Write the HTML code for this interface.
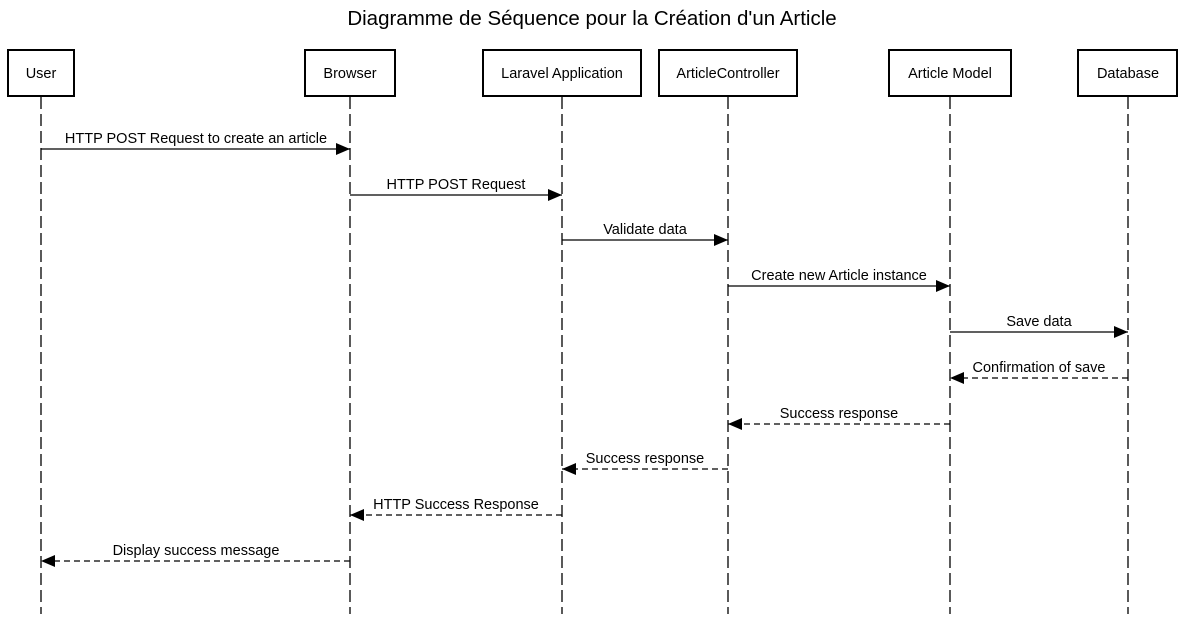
<!DOCTYPE html>
<html><head><style>body{margin:0;background:#fff}svg{display:block}</style></head>
<body>
<svg width="1185" height="618" xmlns="http://www.w3.org/2000/svg" font-family="Liberation Sans, Arial, sans-serif">
<defs>
<marker id="a" markerWidth="14" markerHeight="12" refX="14" refY="6" orient="auto" markerUnits="userSpaceOnUse"><path d="M0,0 L14,6 L0,12 Z" fill="#000"/></marker>
</defs>
<text x="592" y="25" font-size="20.5" text-anchor="middle">Diagramme de Séquence pour la Création d'un Article</text>
<g stroke="#000" stroke-width="1.3" stroke-dasharray="12,5">
<line x1="41" y1="97" x2="41" y2="614"/><line x1="350" y1="97" x2="350" y2="614"/><line x1="562" y1="97" x2="562" y2="614"/><line x1="728" y1="97" x2="728" y2="614"/><line x1="950" y1="97" x2="950" y2="614"/><line x1="1128" y1="97" x2="1128" y2="614"/>
</g>
<g fill="#fff" stroke="#000" stroke-width="2">
<rect x="8" y="50" width="66" height="46"/><rect x="305" y="50" width="90" height="46"/><rect x="483" y="50" width="158" height="46"/><rect x="659" y="50" width="138" height="46"/><rect x="889" y="50" width="122" height="46"/><rect x="1078" y="50" width="99" height="46"/>
</g>
<g font-size="14.5" text-anchor="middle">
<text x="41" y="78">User</text><text x="350" y="78">Browser</text><text x="562" y="78">Laravel Application</text><text x="728" y="78">ArticleController</text><text x="950" y="78">Article Model</text><text x="1128" y="78">Database</text>
</g>
<g stroke="#000" stroke-width="1.3" marker-end="url(#a)">
<line x1="41" y1="149" x2="350" y2="149"/><line x1="350" y1="195" x2="562" y2="195"/><line x1="562" y1="240" x2="728" y2="240"/><line x1="728" y1="286" x2="950" y2="286"/><line x1="950" y1="332" x2="1128" y2="332"/>
</g>
<g stroke="#000" stroke-width="1.3" stroke-dasharray="6,4" marker-end="url(#a)">
<line x1="1128" y1="378" x2="950" y2="378"/><line x1="950" y1="424" x2="728" y2="424"/><line x1="728" y1="469" x2="562" y2="469"/><line x1="562" y1="515" x2="350" y2="515"/><line x1="350" y1="561" x2="41" y2="561"/>
</g>
<g font-size="14.5" text-anchor="middle">
<text x="196" y="143">HTTP POST Request to create an article</text>
<text x="456" y="189">HTTP POST Request</text>
<text x="645" y="234">Validate data</text>
<text x="839" y="280">Create new Article instance</text>
<text x="1039" y="326">Save data</text>
<text x="1039" y="372">Confirmation of save</text>
<text x="839" y="418">Success response</text>
<text x="645" y="463">Success response</text>
<text x="456" y="509">HTTP Success Response</text>
<text x="196" y="555">Display success message</text>
</g>
</svg>
</body></html>
